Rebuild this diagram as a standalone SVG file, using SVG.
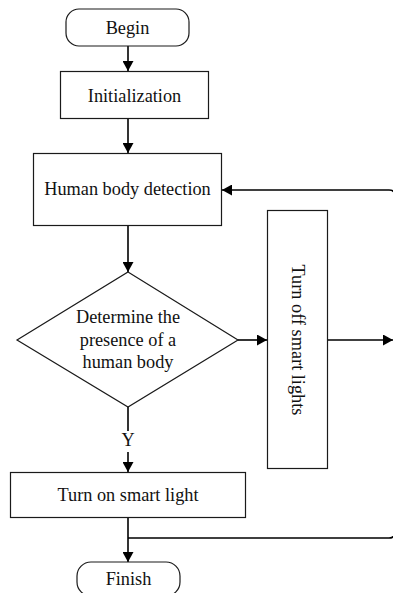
<svg xmlns="http://www.w3.org/2000/svg" width="393" height="593" viewBox="0 0 393 593">
<style>
.box{fill:#fff;stroke:#1a1a1a;stroke-width:1.2}
.t{font-family:"Liberation Serif","Times New Roman",serif;font-size:18.3px;fill:#111;text-anchor:middle}
.c{fill:none;stroke:#000;stroke-width:1.6}
</style>
<defs>
<marker id="ah" markerUnits="userSpaceOnUse" markerWidth="11" markerHeight="11" refX="10" refY="5.5" orient="auto">
<path d="M0,0 L10,5.5 L0,11 z" fill="#000"/>
</marker>
</defs>
<g id="connectors">
<path class="c" d="M128 46 V71" marker-end="url(#ah)"/>
<path class="c" d="M128 119 V153" marker-end="url(#ah)"/>
<path class="c" d="M128 225 V272" marker-end="url(#ah)"/>
<path class="c" d="M238 340 H267" marker-end="url(#ah)"/>
<path class="c" d="M328 340 H393" marker-end="url(#ah)"/>
<path class="c" d="M128 407 V431"/>
<path class="c" d="M128 452 V472" marker-end="url(#ah)"/>
<path class="c" d="M128 518 V562" marker-end="url(#ah)"/>
<path class="c" d="M128 538 H389 Q395 538 395 532 V196 Q395 190 389 190 H222" marker-end="url(#ah)"/>
<text class="t" x="128" y="446">Y</text>
</g>
<g id="begin">
<rect class="box" x="66" y="9" width="123" height="37" rx="13"/>
<text class="t" x="127.5" y="34">Begin</text>
</g>
<g id="init">
<rect class="box" x="60.5" y="71.5" width="148" height="47"/>
<text class="t" x="134.5" y="102">Initialization</text>
</g>
<g id="detect">
<rect class="box" x="33.5" y="153.5" width="188" height="72"/>
<text class="t" x="127.5" y="195">Human body detection</text>
</g>
<g id="decide">
<polygon class="box" points="128,272 238,340 128,407 17,340"/>
<text class="t" x="128" y="323">Determine the</text>
<text class="t" x="128" y="345.5">presence of a</text>
<text class="t" x="128" y="368">human body</text>
</g>
<g id="off">
<rect class="box" x="267.5" y="210.5" width="60" height="258"/>
<text class="t" transform="translate(292,340) rotate(90)">Turn off smart lights</text>
</g>
<g id="on">
<rect class="box" x="10.5" y="472.5" width="235" height="45"/>
<text class="t" x="128" y="501">Turn on smart light</text>
</g>
<g id="finish">
<rect class="box" x="77" y="562" width="103" height="34" rx="14"/>
<text class="t" x="128.5" y="585">Finish</text>
</g>
</svg>
